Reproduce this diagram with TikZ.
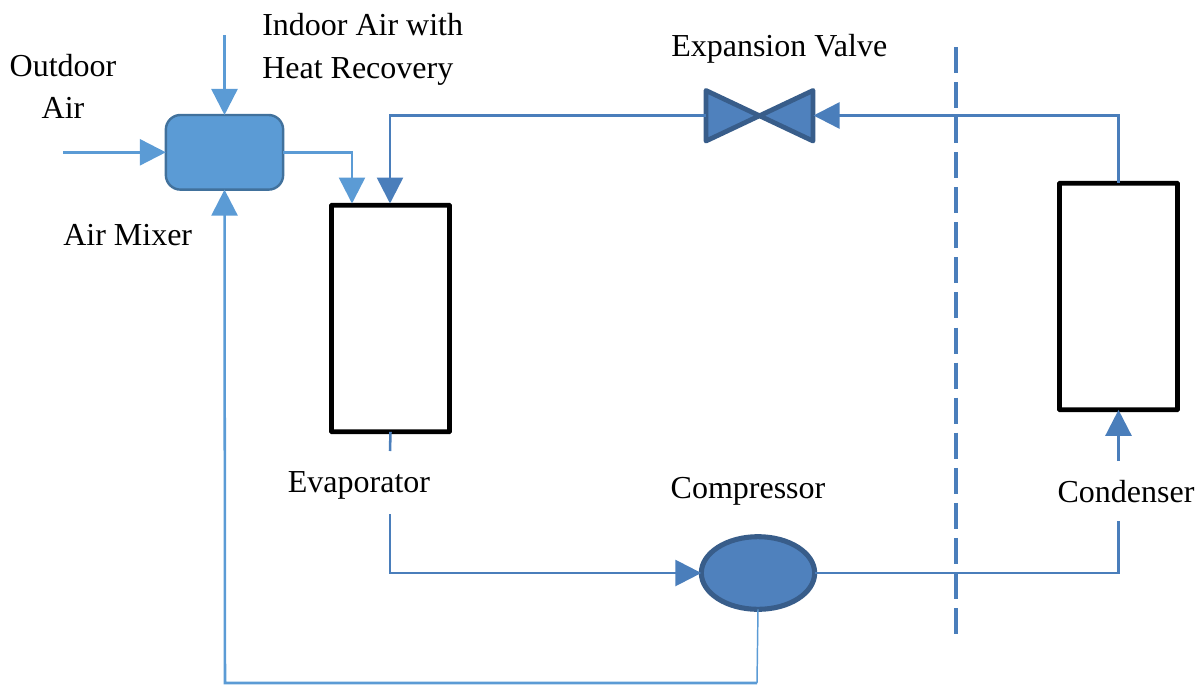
\documentclass[tikz,border=0pt]{standalone}
\usepackage{fontspec}
\setmainfont{Liberation Serif}
\usetikzlibrary{arrows.meta,shapes.geometric}
\definecolor{lightb}{HTML}{5B9BD5}
\definecolor{midb}{HTML}{4A7EBB}
\definecolor{fillb}{HTML}{4F81BD}
\definecolor{darkb}{HTML}{385D8A}
\definecolor{mixedge}{HTML}{41719C}
\tikzset{
  x=0.75pt,y=-0.75pt,
  lbl/.style={font=\fontsize{24}{24}\selectfont,text=black,inner sep=0pt,align=center},
  tipL/.style={-{Triangle[length=19.5pt,width=19.5pt]}},
  lightline/.style={draw=lightb,line width=1.9pt,color=lightb},
  midline/.style={draw=midb,line width=1.9pt,color=midb},
  hx/.style={draw=black,line width=3.6pt,fill=white,minimum width=88.5pt,minimum height=170pt,inner sep=0pt,rounded corners=0.5pt,outer sep=0pt},
}
\begin{document}
\begin{tikzpicture}
\useasboundingbox (0,0) rectangle (1203,686);
% nodes
\node[draw=mixedge,line width=1.8pt,fill=lightb,rounded corners=11pt,minimum width=88pt,minimum height=56pt,inner sep=0pt,outer sep=0pt] (mixer) at (224.5,152.3) {};
\node[hx] (evap) at (390.5,318.5) {};
\node[hx] (cond) at (1118.5,296.5) {};
\node[draw=darkb,line width=3.8pt,fill=fillb,ellipse,minimum width=85pt,minimum height=54.5pt,inner sep=0pt,outer sep=0pt] (comp) at (758,573) {};
\coordinate (valveL) at (706,115.5);
\coordinate (valveR) at (813.5,115.5);
\coordinate (valveTL) at (706,90.5);
\coordinate (valveBL) at (706,141);
\coordinate (valveTR) at (813,90.5);
\coordinate (valveBR) at (813,141);
\draw[darkb,line width=3.6pt,fill=fillb,line join=round] (valveTL) -- (valveBR) -- (valveTR) -- (valveBL) -- cycle;
% free ends and bends
\coordinate (outIn) at (63,152.3);
\coordinate (indoorIn) at (224.5,35);
\coordinate (mixOutBend) at (352,152.3);
\coordinate (mixOutEnd) at (352,203.5);
\coordinate (evapInBend) at (390,115.5);
\coordinate (evapInEnd) at (390,203.5);
\coordinate (condOutBend) at (1118.5,115.5);
\coordinate (evapStubEnd) at (390,451);
\coordinate (evapOutStart) at (390,514);
\coordinate (evapOutBend) at (390,573);
\coordinate (condInBend) at (1118.5,573);
\coordinate (condLowEnd) at (1118.5,521);
\coordinate (condStubStart) at (1118.5,461);
\coordinate (retCorner) at (757,683);
\coordinate (retBend) at (225,683);
\coordinate (dashTop) at (956,47);
\coordinate (dashBot) at (956,636);
% connectors
\draw[midline,dash pattern=on 19.5pt off 6.8pt,line width=2.3pt] (dashTop) -- (dashBot);
\draw[lightline,tipL] (outIn) -- (mixer.west);
\draw[lightline,tipL] (indoorIn) -- (mixer.north);
\draw[lightline,tipL] (mixer.east) -- (mixOutBend) -- (mixOutEnd);
\draw[midline,tipL] (valveL) -- (evapInBend) -- (evapInEnd);
\draw[midline,tipL] (cond.north) -- (condOutBend) -- (valveR);
\draw[midline] (evap.south) -- (evapStubEnd);
\draw[midline,tipL] (evapOutStart) -- (evapOutBend) -- (comp.west);
\draw[midline] (comp.east) -- (condInBend) -- (condLowEnd);
\draw[midline,tipL] (condStubStart) -- (cond.south);
\draw[lightb,line width=1.1pt] (comp.south) -- (retCorner);
\draw[lightline,tipL] (retCorner) -- (retBend) -- (mixer.south);
% labels
\node[lbl] (tOut) at (63,66) {Outdoor};
\node[lbl] (tAir) at (63,108) {Air};
\node[lbl,anchor=west] (tIn1) at (262,24.5) {Indoor Air with};
\node[lbl,anchor=west] (tIn2) at (262,71) {Heat Recovery};
\node[lbl,anchor=west] (tMix) at (63,235.5) {Air Mixer};
\node[lbl,anchor=west] (tValve) at (671,49) {Expansion Valve};
\node[lbl] (tEvap) at (359,485.5) {Evaporator};
\node[lbl] (tComp) at (748,491.5) {Compressor};
\node[lbl] (tCond) at (1126,492) {Condenser};
\end{tikzpicture}
\end{document}
